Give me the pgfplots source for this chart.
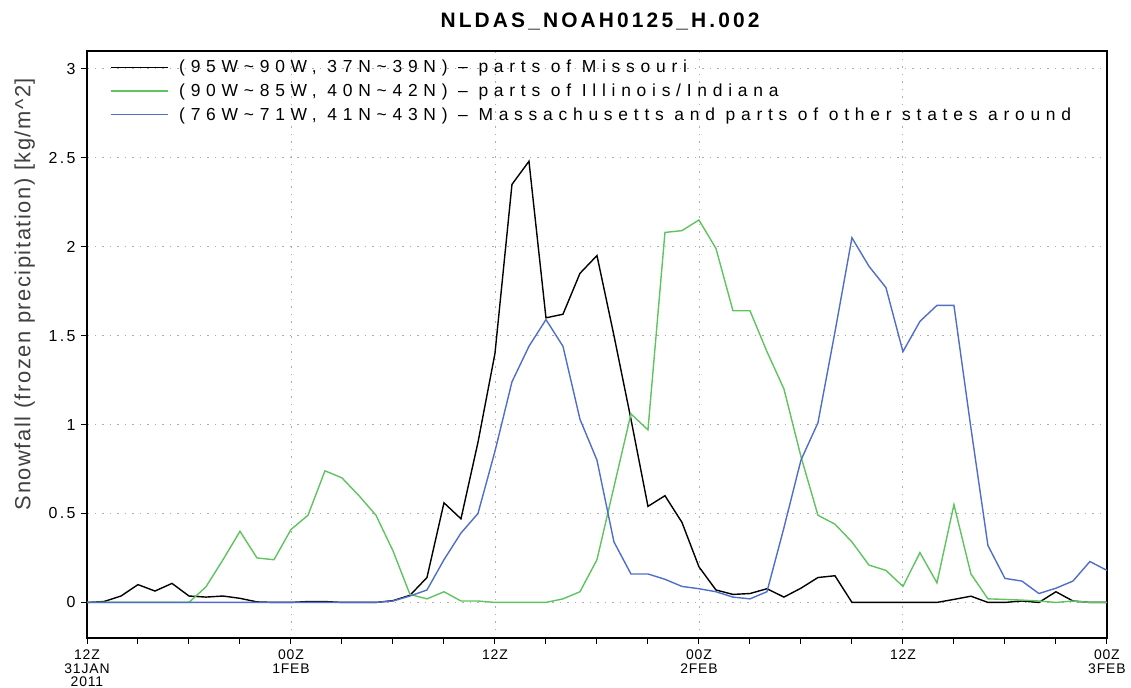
\documentclass[border=0pt]{standalone}
\usepackage{fontspec}
\setmainfont{Liberation Sans}
\newfontfamily\legfont[LetterSpace=33]{Liberation Sans}
\newfontfamily\titfont[LetterSpace=15]{Liberation Sans}
\newfontfamily\tickfont[LetterSpace=6]{Liberation Sans}
\newfontfamily\ytickfont[LetterSpace=15]{Liberation Sans}
\newfontfamily\labfont[LetterSpace=7]{Liberation Sans}
\usepackage{pgfplots}
\usepackage{pgfplotstable}
\pgfplotsset{compat=1.18}
\definecolor{gcol}{RGB}{95,195,95}
\definecolor{bcol}{RGB}{80,110,200}
\pgfplotstableread{
h k g b
0 0 0 0
1 0.005 0 0
2 0.036 0 0
3 0.10 0 0
4 0.064 0 0
5 0.107 0 0
6 0.036 0 0
7 0.03 0.088 0
8 0.036 0.24 0
9 0.023 0.40 0
10 0.003 0.25 0
11 0 0.24 0
12 0 0.41 0
13 0.005 0.49 0
14 0.005 0.74 0
15 0 0.70 0
16 0 0.60 0
17 0 0.49 0
18 0.01 0.29 0.008
19 0.04 0.045 0.036
20 0.14 0.02 0.07
21 0.56 0.06 0.24
22 0.47 0.008 0.39
23 0.90 0.008 0.50
24 1.40 0 0.85
25 2.35 0 1.24
26 2.48 0 1.44
27 1.60 0 1.59
28 1.62 0.02 1.44
29 1.85 0.06 1.03
30 1.95 0.24 0.80
31 1.50 0.65 0.34
32 1.03 1.06 0.16
33 0.54 0.97 0.16
34 0.60 2.08 0.13
35 0.45 2.09 0.09
36 0.20 2.15 0.077
37 0.07 1.99 0.06
38 0.045 1.64 0.03
39 0.05 1.64 0.02
40 0.077 1.41 0.06
41 0.03 1.20 0.42
42 0.08 0.82 0.80
43 0.14 0.49 1.01
44 0.15 0.44 1.52
45 0 0.34 2.05
46 0 0.21 1.89
47 0 0.18 1.77
48 0 0.09 1.41
49 0 0.28 1.58
50 0 0.11 1.67
51 0.017 0.55 1.67
52 0.035 0.16 0.98
53 0 0.02 0.32
54 0 0.017 0.135
55 0.008 0.013 0.12
56 0 0.008 0.05
57 0.06 0 0.08
58 0.008 0.008 0.12
59 0 0 0.23
60 0 0 0.18
}\datatable
\begin{document}
\begin{tikzpicture}
\useasboundingbox (0,0) rectangle (1131bp,688bp);
\begin{axis}[
  at={(87bp,50bp)}, anchor=south west,
  scale only axis, width=1020bp, height=587bp,
  xmin=0, xmax=60, ymin=-0.2, ymax=3.1,
  xtick={0,12,24,36,48,60},
  minor xtick={3,6,9,15,18,21,27,30,33,39,42,45,51,54,57},
  xticklabels={{12Z\\31JAN\\2011},{00Z\\1FEB},{12Z},{00Z\\2FEB},{12Z},{00Z\\3FEB}},
  ytick={0,0.5,1,1.5,2,2.5,3},
  yticklabels={0,0.5,1,1.5,2,2.5,3},
  tick pos=left, tick align=outside,
  major tick length=6bp, minor tick length=6bp,
  every tick/.style={black, line width=1bp},
  axis line style={line width=2.2bp},
  grid=major,
  major grid style={gray!65, line width=0.9bp, dash pattern=on 1.5bp off 6bp},
  x tick label style={align=center, font=\tickfont\fontsize{14}{13.5}\selectfont, inner sep=1bp, yshift=-5bp},
  y tick label style={font=\ytickfont\fontsize{16}{18}\selectfont, xshift=-2bp},
  /pgf/number format/assume math mode=true,
  ylabel={Snowfall (frozen precipitation) [kg/m\^{}2]},
  ylabel style={at={(axis description cs:-0.0611,0.586)}, anchor=center, font=\labfont\fontsize{22}{24}\selectfont, text=black!75},
  title={NLDAS\_NOAH0125\_H.002},
  title style={at={(axis description cs:0.503,1.0)}, anchor=south, yshift=11bp, font=\titfont\bfseries\fontsize{21}{24}\selectfont},
  legend cell align=left,
  legend style={at={(axis description cs:0.0222,0.988)}, anchor=north west, draw=none, fill=none,
    font=\legfont\fontsize{17.5}{20}\selectfont, row sep=5.6bp, inner sep=0pt},
  legend image code/.code={\draw[#1] (0bp,0bp) -- (57bp,0bp); \path (66bp,0bp);},
  clip=false,
]
\addplot[black, line width=1.4bp] table[x=h, y=k] {\datatable};
\addlegendentry{(95W\textasciitilde90W, 37N\textasciitilde39N) \textendash{} parts of Missouri}
\addplot[gcol, line width=1.4bp] table[x=h, y=g] {\datatable};
\addlegendentry{(90W\textasciitilde85W, 40N\textasciitilde42N) \textendash{} parts of Illinois/Indiana}
\addplot[bcol, line width=1.4bp] table[x=h, y=b] {\datatable};
\addlegendentry{(76W\textasciitilde71W, 41N\textasciitilde43N) \textendash{} Massachusetts and parts of other states around}
\end{axis}
\end{tikzpicture}
\end{document}
